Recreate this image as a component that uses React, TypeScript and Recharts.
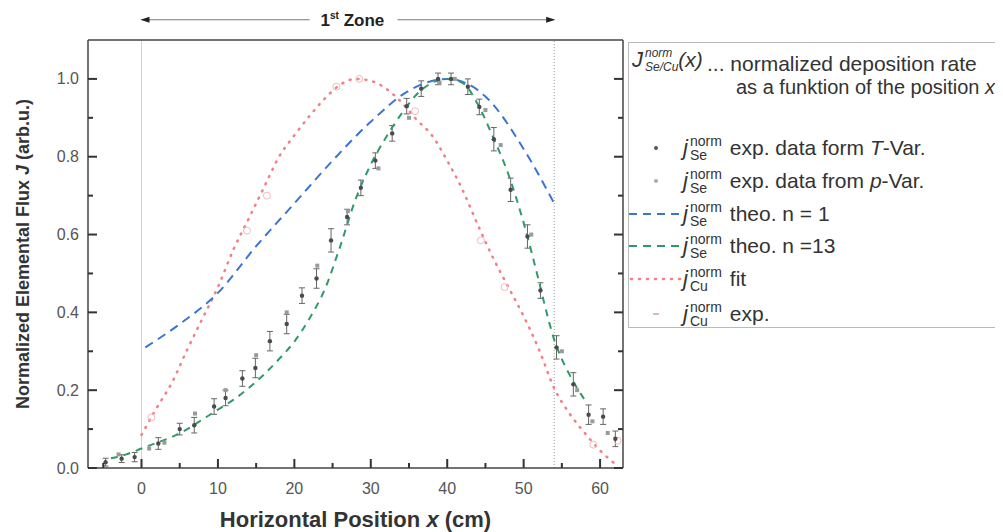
import React from "react";
import {
  ComposedChart,
  Line,
  Scatter,
  ErrorBar,
  XAxis,
  YAxis,
  ReferenceLine,
  ReferenceDot,
} from "recharts";

// theo. curve n = 1
const theo1X = [0.5, 5, 10, 15, 20, 25, 30, 35, 40, 45, 50, 54];
const theo1Y = [0.31, 0.37, 0.45, 0.57, 0.68, 0.79, 0.89, 0.97, 1.0, 0.955, 0.82, 0.68];

// theo. curve n = 13
const theo13X = [-4, -2, 0, 2, 4, 6, 8, 10, 12, 14, 16, 18, 20, 22, 24, 26, 28, 30, 32, 34, 36, 38, 40, 42, 44, 46, 48, 50, 52, 53, 54, 55, 56, 57, 58];
const theo13Y = [0.025, 0.035, 0.05, 0.065, 0.08, 0.1, 0.125, 0.15, 0.175, 0.205, 0.24, 0.28, 0.325, 0.385, 0.46, 0.57, 0.69, 0.78, 0.85, 0.91, 0.96, 0.99, 1.0, 0.99, 0.935, 0.85, 0.755, 0.63, 0.48, 0.4, 0.33, 0.28, 0.24, 0.205, 0.175];

// Cu fit
const cuFitX = [0, 2, 4, 6, 8, 10, 12, 14, 16, 18, 20, 22, 24, 26, 28, 30, 32, 34, 36, 38, 40, 42, 44, 46, 48, 50, 52, 54, 56, 58, 60, 62];
const cuFitY = [0.085, 0.155, 0.22, 0.305, 0.385, 0.465, 0.56, 0.64, 0.72, 0.8, 0.855, 0.905, 0.95, 0.985, 1.0, 0.995, 0.975, 0.94, 0.895, 0.855, 0.79, 0.715, 0.625, 0.54, 0.465, 0.39, 0.305, 0.205, 0.14, 0.09, 0.045, 0.01];

// Se exp. T-Var
const tVarX = [-4.7, -2.6, -0.9, 2.2, 5, 6.9, 9.5, 11, 13.2, 14.9, 16.8, 19, 21, 22.9, 24.8, 26.9, 28.7, 30.6, 32.8, 34.7, 36.6, 38.8, 40.5, 42.7, 44.2, 46.1, 48.3, 50.5, 52.2, 54.3, 56.5, 58.5, 60.4, 62];
const tVarY = [0.015, 0.024, 0.028, 0.063, 0.1, 0.11, 0.158, 0.18, 0.23, 0.257, 0.326, 0.37, 0.443, 0.487, 0.585, 0.645, 0.72, 0.79, 0.86, 0.93, 0.975, 1.0, 1.0, 0.98, 0.928, 0.845, 0.715, 0.595, 0.456, 0.31, 0.215, 0.137, 0.132, 0.075];
const tVarErr = [0.01, 0.01, 0.012, 0.015, 0.015, 0.02, 0.02, 0.02, 0.02, 0.025, 0.025, 0.025, 0.02, 0.025, 0.03, 0.02, 0.02, 0.02, 0.02, 0.02, 0.02, 0.015, 0.015, 0.02, 0.02, 0.03, 0.03, 0.03, 0.02, 0.03, 0.03, 0.025, 0.02, 0.02];

// Se exp. p-Var
const pVarX = [-3, 1, 3, 7, 11, 15, 19, 23, 27, 31, 35, 39, 41, 45, 47, 51, 55, 57, 59, 61];
const pVarY = [0.035, 0.05, 0.065, 0.14, 0.2, 0.29, 0.4, 0.52, 0.66, 0.77, 0.9, 0.99, 1.0, 0.92, 0.83, 0.6, 0.3, 0.2, 0.12, 0.09];

// Cu exp.
const cuExpX = [1.3, 13.8, 16.4, 25.5, 28.5, 35.8, 44.4, 47.5, 59.1, 62.3];
const cuExpY = [0.13, 0.61, 0.7, 0.98, 1.0, 0.917, 0.585, 0.465, 0.06, 0.07];

const xTicks = [-5, 0, 5, 10, 15, 20, 25, 30, 35, 40, 45, 50, 55, 60];
const yTicks = [0, 0.1, 0.2, 0.3, 0.4, 0.5, 0.6, 0.7, 0.8, 0.9, 1.0];

const zup = (xs: number[], ys: number[], errs?: number[]) =>
  xs.map((x, i) => ({ x, y: ys[i], err: errs ? errs[i] : 0 }));

const theo1 = zup(theo1X, theo1Y);
const theo13 = zup(theo13X, theo13Y);
const cuFit = zup(cuFitX, cuFitY);
const tVar = zup(tVarX, tVarY, tVarErr);
const pVar = zup(pVarX, pVarY);
const cuExp = zup(cuExpX, cuExpY);

const font = '"Liberation Sans", Arial, sans-serif';
const axisColor = "#444";
const tickColor = "#333";
const BLUE = "#3c74d4";
const GREEN = "#2f9a68";
const PINK = "#f07f86";

const isMajorX = (v: number) => v % 10 === 0;
const isMajorY = (v: number) => Math.round(v * 10) % 2 === 0;
const tickLen = (major: boolean) => (major ? 9 : 5);

// ticks point inward (Origin style); drawn as thin filled rects
const BottomTick = ({ x, y, payload }: any) => {
  const v = payload.value;
  const major = isMajorX(v);
  const len = tickLen(major);
  return (
    <g>
      <rect x={x - 1} y={y - len} width={2} height={len} fill={tickColor} />
      {major && (
        <text x={x} y={y + 26} textAnchor="middle" fontSize={16} fill="#555" fontFamily={font}>
          {v}
        </text>
      )}
    </g>
  );
};

const TopTick = ({ x, y, payload }: any) => {
  const len = tickLen(isMajorX(payload.value));
  return <rect x={x - 1} y={y} width={2} height={len} fill={tickColor} />;
};

const LeftTick = ({ x, y, payload }: any) => {
  const v = payload.value;
  const major = isMajorY(v);
  const len = tickLen(major);
  return (
    <g>
      <rect x={x} y={y - 1} width={len} height={2} fill={tickColor} />
      {major && (
        <text x={x - 9} y={y + 5.5} textAnchor="end" fontSize={16} fill="#555" fontFamily={font}>
          {v.toFixed(1)}
        </text>
      )}
    </g>
  );
};

const RightTick = ({ x, y, payload }: any) => {
  const len = tickLen(isMajorY(payload.value));
  return <rect x={x - len} y={y - 1} width={len} height={2} fill={tickColor} />;
};

const XTitle = ({ viewBox }: any) => (
  <text
    x={viewBox.x + viewBox.width / 2}
    y={viewBox.y + 59}
    textAnchor="middle"
    fontSize={22}
    fontWeight="bold"
    fill="#333"
    fontFamily={font}
  >
    Horizontal Position <tspan fontStyle="italic">x</tspan> (cm)
  </text>
);

const YTitle = ({ viewBox }: any) => {
  const cx = 15;
  const cy = viewBox.y + viewBox.height / 2;
  return (
    <text
      x={cx}
      y={cy}
      transform={`rotate(-90 ${cx} ${cy})`}
      textAnchor="middle"
      dominantBaseline="central"
      fontSize={18}
      fontWeight="bold"
      fill="#333"
      fontFamily={font}
    >
      Normalized Elemental Flux <tspan fontStyle="italic">J</tspan> (arb.u.)
    </text>
  );
};

const ArrowLeft = ({ cx, cy }: any) => (
  <path d={`M${cx - 1},${cy} L${cx + 8},${cy - 3} L${cx + 8},${cy + 3} Z`} fill="#222" />
);
const ArrowRight = ({ cx, cy }: any) => (
  <path d={`M${cx + 1},${cy} L${cx - 8},${cy - 3} L${cx - 8},${cy + 3} Z`} fill="#222" />
);
const ZoneText = ({ cx, cy }: any) => (
  <text x={cx} y={cy + 6} textAnchor="middle" fontSize={17} fontWeight="bold" fill="#222" fontFamily={font}>
    1<tspan fontSize={10} dy={-7}>st</tspan>
    <tspan dy={7}> Zone</tspan>
  </text>
);

const Jsym = ({ sub, big }: { sub: string; big?: boolean }) => (
  <span style={{ display: "inline-flex", alignItems: "center", marginRight: big ? 0 : 8 }}>
    <span style={{ fontStyle: "italic", fontSize: 22 }}>{big ? "J" : "j"}</span>
    <span
      style={{
        display: "inline-flex",
        flexDirection: "column",
        fontSize: big ? 12 : 14,
        lineHeight: "14px",
        marginLeft: 2,
        fontStyle: big ? "italic" : "normal",
      }}
    >
      <span>norm</span>
      <span>{sub}</span>
    </span>
  </span>
);

const LegendRow = ({ top, marker, sub, children }: any) => (
  <div
    style={{
      position: "absolute",
      left: 0,
      top: top - 15,
      height: 30,
      display: "flex",
      alignItems: "center",
      whiteSpace: "nowrap",
    }}
  >
    <svg width={54} height={30} style={{ display: "block" }}>
      {marker}
    </svg>
    <Jsym sub={sub} />
    <span>{children}</span>
  </div>
);

const LegendBox = () => (
  <div
    style={{
      position: "absolute",
      left: 620,
      top: 34,
      width: 420,
      height: 286,
      border: "1px solid #bbb",
      boxSizing: "border-box",
      fontFamily: font,
      fontSize: 21,
      color: "#333",
    }}
  >
    <div style={{ position: "absolute", left: 3, top: 3, whiteSpace: "nowrap", display: "flex", alignItems: "center" }}>
      <Jsym sub="Se/Cu" big />
      <span style={{ fontStyle: "italic" }}>(x)</span>
    </div>
    <div style={{ position: "absolute", left: 78, top: 9, whiteSpace: "nowrap" }}>
      ...&nbsp;normalized deposition rate
    </div>
    <div style={{ position: "absolute", left: 107, top: 33, whiteSpace: "nowrap", fontSize: 20 }}>
      as a funktion of the position <i>x</i>
    </div>
    <LegendRow top={105} sub="Se" marker={<circle cx={27} cy={15} r={2} fill="#555" />}>
      exp. data form <i>T</i>-Var.
    </LegendRow>
    <LegendRow top={138} sub="Se" marker={<circle cx={27} cy={15} r={2} fill="#aaa" />}>
      exp. data from <i>p</i>-Var.
    </LegendRow>
    <LegendRow
      top={171}
      sub="Se"
      marker={<line x1={0} x2={54} y1={15} y2={15} stroke={BLUE} strokeWidth={2} strokeDasharray="8 6" />}
    >
      theo. n = 1
    </LegendRow>
    <LegendRow
      top={203}
      sub="Se"
      marker={<line x1={0} x2={54} y1={15} y2={15} stroke={GREEN} strokeWidth={2} strokeDasharray="8 6" />}
    >
      theo. n =13
    </LegendRow>
    <LegendRow
      top={236}
      sub="Cu"
      marker={
        <line x1={2} x2={54} y1={15} y2={15} stroke={PINK} strokeWidth={2.5} strokeDasharray="1 7" strokeLinecap="round" />
      }
    >
      fit
    </LegendRow>
    <LegendRow top={271} sub="Cu" marker={<line x1={24} x2={30} y1={15} y2={15} stroke="#c9a5a8" strokeWidth={1.5} />}>
      exp.
    </LegendRow>
  </div>
);

const axisCommon = {
  type: "number" as const,
  allowDataOverflow: true,
  interval: 0 as const,
  tickSize: 0,
  tickMargin: 0,
  tickLine: false,
  axisLine: { stroke: axisColor, strokeWidth: 1.5 },
};

export default function App() {
  return (
    <div style={{ position: "relative", width: 995, height: 524, overflow: "hidden", background: "#fff" }}>
      <ComposedChart
        width={995}
        height={524}
        margin={{ top: 31, right: 379, left: 30, bottom: 24 }}
      >
        <XAxis
          {...axisCommon}
          dataKey="x"
          domain={[-7, 63]}
          ticks={xTicks}
          tick={(p: any) => <BottomTick {...p} />}
          height={40}
          label={<XTitle />}
        />
        <XAxis
          {...axisCommon}
          xAxisId="top"
          orientation="top"
          domain={[-7, 63]}
          ticks={xTicks}
          tick={(p: any) => <TopTick {...p} />}
          height={1}
        />
        <YAxis
          {...axisCommon}
          dataKey="y"
          domain={[0, 1.1]}
          ticks={yTicks}
          tick={(p: any) => <LeftTick {...p} />}
          width={50}
          label={<YTitle />}
        />
        <YAxis
          {...axisCommon}
          yAxisId="right"
          orientation="right"
          domain={[0, 1.1]}
          ticks={yTicks}
          tick={(p: any) => <RightTick {...p} />}
          width={1}
        />

        <ReferenceLine x={0} stroke="#d4d4d4" strokeWidth={1} />
        <ReferenceLine x={54} stroke="#999" strokeWidth={1} strokeDasharray="1 2" />

        <ReferenceLine
          ifOverflow="visible"
          segment={[{ x: 0, y: 1.152 }, { x: 22, y: 1.152 }]}
          stroke="#777"
          strokeWidth={1}
        />
        <ReferenceLine
          ifOverflow="visible"
          segment={[{ x: 33.5, y: 1.152 }, { x: 54, y: 1.152 }]}
          stroke="#777"
          strokeWidth={1}
        />
        <ReferenceDot x={0} y={1.152} ifOverflow="visible" shape={(p: any) => <ArrowLeft {...p} />} />
        <ReferenceDot x={54} y={1.152} ifOverflow="visible" shape={(p: any) => <ArrowRight {...p} />} />
        <ReferenceDot x={27.6} y={1.152} ifOverflow="visible" shape={(p: any) => <ZoneText {...p} />} />

        <Scatter
          data={cuExp}
          isAnimationActive={false}
          shape={(p: any) => <circle cx={p.cx} cy={p.cy} r={3.5} fill="none" stroke="#f3b9bd" strokeWidth={1} />}
        />
        <Scatter
          data={pVar}
          isAnimationActive={false}
          shape={(p: any) => <rect x={p.cx - 2} y={p.cy - 2} width={4} height={4} fill="#9a9a9a" />}
        />
        <Scatter
          data={tVar}
          isAnimationActive={false}
          shape={(p: any) => <circle cx={p.cx} cy={p.cy} r={2.2} fill="#4a4a4a" />}
        >
          <ErrorBar dataKey="err" direction="y" width={3} stroke="#666" strokeWidth={1} />
        </Scatter>

        <Line
          data={cuFit}
          dataKey="y"
          type="monotone"
          stroke={PINK}
          strokeWidth={2.5}
          strokeDasharray="1 7"
          strokeLinecap="round"
          dot={false}
          isAnimationActive={false}
        />
        <Line
          data={theo1}
          dataKey="y"
          type="monotone"
          stroke={BLUE}
          strokeWidth={2}
          strokeDasharray="9 6"
          dot={false}
          isAnimationActive={false}
        />
        <Line
          data={theo13}
          dataKey="y"
          type="monotone"
          stroke={GREEN}
          strokeWidth={2}
          strokeDasharray="7 6"
          dot={false}
          isAnimationActive={false}
        />
      </ComposedChart>
      <LegendBox />
    </div>
  );
}
